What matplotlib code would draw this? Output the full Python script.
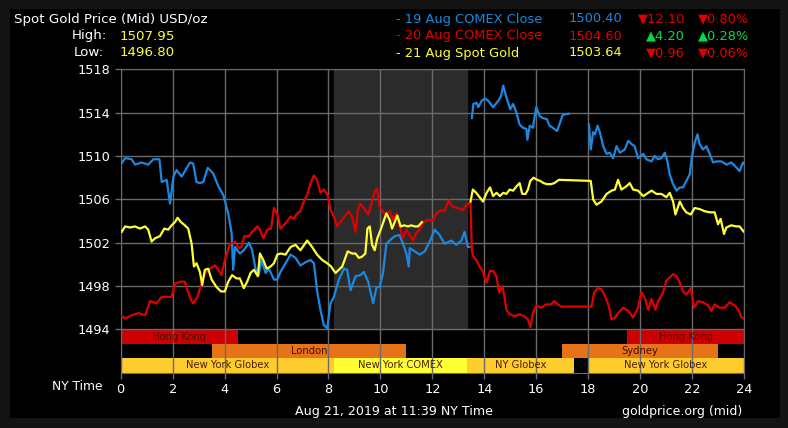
import numpy as np
import matplotlib.pyplot as plt
from matplotlib.patches import Rectangle

nan = np.nan

# 19 Aug COMEX Close (blue)
blue_t = [0, 0.17, 0.42, 0.55, 0.8, 1.06, 1.26, 1.49, 1.58, 1.77, 1.9, 2.03, 2.15, 2.35, 2.47,
          2.67, 2.79, 2.92, 3.05, 3.18, 3.35, 3.56, 3.76, 3.95, 4.14, 4.27, 4.33, 4.4, 4.59,
          4.74, 4.94, 5.06, 5.19, 5.32, 5.41, 5.58, 5.71, 5.9, 6.03, 6.15, 6.35, 6.54, 6.73,
          6.92, 7.12, 7.31, 7.44, 7.56, 7.69, 7.82, 7.95, 8.08, 8.21, 8.4, 8.6, 8.72, 8.85,
          9.04, 9.23, 9.36, 9.53, 9.72, 9.85, 9.97, 10.1, 10.23, 10.36, 10.55, 10.74, 10.87,
          11.0, 11.09, 11.13, 11.32, 11.51, 11.71, 11.9, 12.09, 12.28, 12.47, 12.73, 12.92,
          13.12, 13.24, 13.37, 13.43, 13.45,
          13.52, 13.58, 13.71, 13.77, 13.9, 14.03, 14.15, 14.34, 14.54, 14.64, 14.73, 14.85,
          15.0, 15.11, 15.24, 15.36, 15.49, 15.62, 15.66, 15.75, 15.87, 16.0, 16.13, 16.25,
          16.41, 16.51, 16.64, 16.8, 16.89, 17.02, 17.25, 17.3,
          18.03, 18.1, 18.19, 18.26, 18.36, 18.45, 18.58, 18.71, 18.83, 18.96, 19.09, 19.22,
          19.41, 19.54, 19.67, 19.79, 19.92, 20.12, 20.24, 20.44, 20.56, 20.69, 20.82, 20.95,
          21.05, 21.14, 21.27, 21.4, 21.53, 21.65, 21.78, 21.91, 22.0, 22.1, 22.21, 22.29,
          22.42, 22.55, 22.68, 22.81, 22.94, 23.13, 23.33, 23.51, 23.64, 23.83, 23.96, 24.0]
blue_v = [1509.2, 1509.8, 1509.7, 1509.2, 1509.4, 1509.2, 1509.7, 1509.7, 1507.6, 1507.8,
          1505.6, 1508.1, 1508.7, 1508.1, 1508.6, 1509.4, 1509.3, 1507.6, 1507.5, 1507.6,
          1508.9, 1508.4, 1507.2, 1506.4, 1504.7, 1502.9, 1499.5, 1501.6, 1501.0,
          1501.3, 1502.0, 1501.3, 1499.6, 1499.0, 1500.4, 1499.2, 1499.6, 1498.6, 1498.6,
          1499.3, 1500.1, 1500.9, 1500.6, 1499.9, 1500.2, 1500.4, 1500.1, 1497.6, 1495.8,
          1494.4, 1494.1, 1496.4, 1497.0, 1498.6, 1499.6, 1499.5, 1497.6, 1498.9, 1499.0,
          1499.3, 1498.4, 1496.4, 1497.9, 1497.9, 1499.2, 1501.9, 1502.2, 1502.6, 1502.7,
          1501.9, 1501.0, 1499.8, 1501.5, 1501.2, 1500.9, 1501.2, 1502.1, 1503.2, 1502.7,
          1501.9, 1502.2, 1501.8, 1502.2, 1503.0, 1501.6, 1501.6, nan,
          1513.5, 1514.8, 1514.9, 1514.5, 1515.1, 1515.3, 1515.1, 1514.5, 1515.1, 1515.5,
          1516.5, 1515.4, 1514.3, 1514.8, 1514.0, 1512.9, 1512.6, 1512.5, 1511.5, 1512.8,
          1512.6, 1514.5, 1513.7, 1513.5, 1513.4, 1512.8, 1512.6, 1512.3, 1512.9, 1513.8,
          1513.9, nan,
          1512.9, 1510.6, 1512.2, 1512.0, 1512.8, 1512.2, 1510.9, 1510.2, 1510.3, 1509.8,
          1510.9, 1510.3, 1510.6, 1511.4, 1511.1, 1510.9, 1509.8, 1510.2, 1509.7, 1509.5,
          1510.0, 1509.7, 1509.8, 1510.3, 1509.5, 1508.3, 1507.4, 1506.8, 1507.1, 1507.1,
          1507.7, 1508.3, 1510.0, 1511.2, 1512.0, 1511.1, 1510.6, 1510.9, 1510.2, 1509.4,
          1509.5, 1509.5, 1509.2, 1509.4, 1509.1, 1508.6, 1509.4, 1509.3]

# 20 Aug COMEX Close (red)
red_t = [0, 0.17, 0.42, 0.68, 0.94, 1.13, 1.38, 1.58, 1.77, 1.96, 2.09, 2.28, 2.47, 2.54,
         2.71, 2.79, 2.96, 3.09, 3.24, 3.44, 3.63, 3.76, 3.88, 4.01, 4.21, 4.4, 4.55, 4.65,
         4.76, 4.94, 5.06, 5.26, 5.36, 5.49, 5.64, 5.79, 5.9, 6.03, 6.15, 6.35, 6.54, 6.67,
         6.79, 6.92, 7.05, 7.18, 7.31, 7.44, 7.56, 7.69, 7.82, 7.97, 8.08, 8.21, 8.33, 8.46,
         8.62, 8.78, 8.91, 9.04, 9.13, 9.23, 9.36, 9.53, 9.65, 9.78, 9.87, 9.97, 10.06, 10.19,
         10.36, 10.49, 10.62, 10.74, 10.87, 11.0, 11.13, 11.26, 11.38, 11.51, 11.64, 11.83,
         12.03, 12.15, 12.35, 12.47, 12.63, 12.79, 12.99, 13.18, 13.31, 13.47, 13.52, 13.56,
         13.69, 13.82, 13.95, 14.09, 14.22, 14.34, 14.47, 14.57, 14.7, 14.79, 14.85, 14.98,
         15.17, 15.36, 15.55, 15.68, 15.78, 15.87, 16.0, 16.19, 16.38, 16.57, 16.7, 16.83,
         16.96, 18.13, 18.23, 18.36, 18.51, 18.64, 18.79, 18.9, 19.03, 19.15, 19.35, 19.54,
         19.73, 19.92, 20.05, 20.18, 20.31, 20.44, 20.59, 20.69, 20.88, 21.01, 21.14, 21.27,
         21.4, 21.53, 21.65, 21.78, 21.95, 22.08, 22.23, 22.42, 22.62, 22.74, 22.87, 23.06,
         23.26, 23.45, 23.64, 23.79, 23.9, 24.0]
red_v = [1495.3, 1495.0, 1495.3, 1495.5, 1495.3, 1496.6, 1496.4, 1497.0, 1497.0, 1497.0,
         1498.2, 1498.4, 1498.4, 1497.8, 1496.7, 1496.4, 1497.0, 1498.1, 1499.2, 1499.6,
         1499.9, 1499.5, 1499.0, 1500.4, 1501.9, 1502.1, 1501.5, 1501.6, 1502.6, 1502.6,
         1503.0, 1503.5, 1503.2, 1502.4, 1503.2, 1503.3, 1505.2, 1504.6, 1503.3, 1503.8,
         1504.4, 1504.2, 1504.7, 1504.9, 1505.8, 1506.4, 1507.5, 1508.2, 1507.8, 1506.6,
         1506.9, 1506.4, 1505.0, 1504.4, 1503.5, 1503.9, 1504.4, 1504.9, 1504.4, 1503.0,
         1505.0, 1505.6, 1505.2, 1504.6, 1505.5, 1506.7, 1507.0, 1505.3, 1505.0, 1504.6,
         1504.9, 1504.1, 1504.7, 1503.5, 1502.4, 1503.2, 1502.7, 1502.2, 1502.9, 1503.2,
         1503.9, 1504.1, 1504.1, 1504.7, 1505.0, 1504.9, 1505.9, 1505.3, 1505.2, 1505.0,
         1505.5, 1505.7, 1501.4, 1500.8, 1500.4, 1499.8, 1499.3, 1498.3, 1499.4, 1499.4,
         1498.9, 1497.4, 1498.0, 1496.8, 1495.8, 1495.4, 1495.2, 1495.4, 1495.2, 1494.9,
         1494.2, 1495.5, 1496.2, 1496.0, 1496.3, 1496.3, 1496.6, 1496.3, 1496.1, 1496.1,
         1497.4, 1497.8, 1497.7, 1497.1, 1496.2, 1494.9, 1495.1, 1495.5, 1496.0, 1495.7,
         1495.1, 1496.0, 1497.4, 1496.9, 1495.8, 1496.8, 1495.8, 1496.6, 1497.4, 1498.5,
         1498.8, 1499.1, 1498.9, 1498.3, 1497.5, 1497.2, 1497.8, 1496.0, 1496.6, 1496.5,
         1496.2, 1495.7, 1496.3, 1496.0, 1496.0, 1496.5, 1496.2, 1495.8, 1495.1, 1495.0]

# 21 Aug Spot Gold (yellow)
yel_t = [0.04, 0.17, 0.36, 0.55, 0.74, 0.94, 1.06, 1.19, 1.32, 1.51, 1.68, 1.83, 1.96, 2.09,
         2.19, 2.32, 2.47, 2.6, 2.73, 2.82, 2.92, 3.05, 3.14, 3.24, 3.37, 3.5, 3.69, 3.86,
         4.01, 4.14, 4.29, 4.46, 4.59, 4.74, 4.87, 5.0, 5.13, 5.28, 5.36, 5.49, 5.62, 5.77,
         5.9, 6.03, 6.15, 6.35, 6.54, 6.73, 6.92, 7.18, 7.37, 7.56, 7.76, 7.95, 8.1, 8.27,
         8.4, 8.53, 8.65, 8.74, 8.91, 9.04, 9.17, 9.29, 9.42, 9.5, 9.59, 9.68, 9.78, 9.88,
         10.01, 10.14, 10.23, 10.36, 10.45, 10.55, 10.65, 10.78, 10.91, 11.06, 11.19, 11.32,
         11.45, 11.6, 11.65,
         13.47, 13.56, 13.69, 13.82, 13.95, 14.09, 14.22, 14.34, 14.47, 14.6, 14.73, 14.85,
         14.98, 15.11, 15.24, 15.36, 15.46, 15.59, 15.68, 15.77, 15.9, 16.03, 16.15, 16.28,
         16.41, 16.57, 16.7, 16.87, 18.1, 18.19, 18.32, 18.51, 18.71, 18.9, 19.03, 19.15,
         19.28, 19.47, 19.6, 19.73, 19.92, 20.12, 20.31, 20.44, 20.63, 20.82, 21.01, 21.14,
         21.27, 21.36, 21.53, 21.65, 21.78, 21.95, 22.1, 22.29, 22.49, 22.68, 22.87, 23.0,
         23.1, 23.23, 23.32, 23.51, 23.71, 23.83, 23.96, 24.0]
yel_v = [1503.0, 1503.5, 1503.4, 1503.5, 1503.3, 1503.5, 1503.2, 1502.1, 1502.4, 1502.6,
         1503.3, 1503.2, 1503.6, 1503.9, 1504.3, 1503.9, 1503.6, 1503.3, 1501.9, 1499.8,
         1500.1, 1499.3, 1498.1, 1499.5, 1499.6, 1498.6, 1497.9, 1497.5, 1497.5, 1498.4,
         1499.0, 1498.7, 1498.7, 1497.8, 1498.4, 1499.2, 1499.5, 1498.9, 1501.0, 1500.4,
         1499.6, 1499.8, 1500.1, 1500.9, 1501.0, 1500.9, 1501.6, 1501.8, 1501.3, 1502.2,
         1501.6, 1500.9, 1500.4, 1500.1, 1499.8, 1499.2, 1499.5, 1499.8, 1500.6, 1501.2,
         1501.0, 1501.0, 1500.6, 1500.7, 1501.0, 1503.3, 1503.5, 1501.8, 1501.3, 1502.4,
         1503.2, 1504.1, 1504.7, 1504.1, 1503.3, 1503.9, 1504.5, 1503.5, 1503.6, 1503.5,
         1503.6, 1503.5, 1503.5, 1503.9, nan,
         1505.8, 1506.9, 1506.6, 1506.2, 1505.8, 1506.6, 1507.1, 1506.3, 1506.6, 1506.3,
         1506.6, 1506.5, 1506.9, 1506.8, 1507.2, 1507.5, 1506.5, 1506.5, 1506.9, 1507.7,
         1508.0, 1507.8, 1507.7, 1507.5, 1507.4, 1507.4, 1507.5, 1507.8, 1507.7, 1506.0,
         1505.5, 1505.8, 1506.5, 1506.8, 1506.9, 1507.8, 1506.9, 1507.2, 1507.5, 1506.9,
         1506.8, 1506.3, 1506.6, 1506.8, 1506.5, 1506.5, 1506.2, 1506.6, 1505.8, 1504.6,
         1505.8, 1505.2, 1504.8, 1504.6, 1505.2, 1505.1, 1504.9, 1504.8, 1504.8, 1503.7,
         1504.2, 1502.8, 1503.4, 1503.6, 1503.5, 1503.5, 1503.1, 1503.0]

# trading sessions: (start, end, label)
hk_sessions = [(0, 4.5, "Hong Kong"), (19.5, 24, "Hong Kong")]
eu_sessions = [(3.5, 11, "London"), (17, 23, "Sydney")]
ny_sessions = [(0, 8.2, "New York Globex"), (8.2, 13.35, "New York COMEX"),
               (13.35, 17.45, "NY Globex"), (18, 24, "New York Globex")]
comex_span = (8.2, 13.35)

BLUE = "#1a88e0"
RED = "#e00000"
YEL = "#ffff33"
GREEN = "#00dd44"
GRID = "#6a6a6a"

W, H = 788, 428
fig = plt.figure(figsize=(W / 100, H / 100), dpi=100)
fig.patch.set_facecolor("#141414")
fig.patches.append(Rectangle((10 / W, 1 - 418 / H), 770 / W, 409 / H,
                             transform=fig.transFigure, facecolor="black",
                             edgecolor="none", zorder=-10))

x0, x1, y_top, y_bot = 120.7, 744, 69.3, 372.7
ax = fig.add_axes([x0 / W, 1 - y_bot / H, (x1 - x0) / W, (y_bot - y_top) / H])
ax.set_facecolor("black")
ax.set_xlim(0, 24)
ax.set_ylim(1490, 1518)

ax.axvspan(comex_span[0], comex_span[1], ymin=4 / 28, ymax=1, color="#2b2b2b", zorder=0)

bh = 4 / 3
for rows, yb, col in [(hk_sessions, 1494 - bh, "#cc0000"),
                      (eu_sessions, 1494 - 2 * bh, "#e67317")]:
    for s, e, lab in rows:
        ax.add_patch(Rectangle((s, yb), e - s, bh, facecolor=col, edgecolor="none", zorder=1))
        ax.text((s + e) / 2, yb + bh / 2, lab, ha="center", va="center",
                fontsize=7.2, color="#4a0a00", zorder=3)
for s, e, lab in ny_sessions:
    col = "#ffff33" if "COMEX" in lab else "#ffcc2e"
    ax.add_patch(Rectangle((s, 1490), e - s, bh, facecolor=col, edgecolor="none", zorder=1))
    ax.text((s + e) / 2, 1490 + bh / 2, lab, ha="center", va="center",
            fontsize=7.2, color="#4a2000", zorder=3)

ax.set_xticks(range(0, 25, 2))
ax.set_yticks(range(1494, 1519, 4))
ax.grid(True, color=GRID, linewidth=1, zorder=2)
ax.set_axisbelow(False)
ax.tick_params(colors=GRID, labelcolor="white", labelsize=9.3, length=4, width=1)
for sp in ax.spines.values():
    sp.set_color(GRID)

ax.plot(blue_t, blue_v, color=BLUE, linewidth=1.6, zorder=4)
ax.plot(red_t, red_v, color=RED, linewidth=1.6, zorder=4)
ax.plot(yel_t, yel_v, color=YEL, linewidth=1.6, zorder=5)

def ftext(x, y, s, **kw):
    kw.setdefault("color", "white")
    kw.setdefault("fontsize", 9.6)
    kw.setdefault("va", "center")
    fig.text(x / W, 1 - y / H, s, **kw)

ftext(14, 19, "Spot Gold Price (Mid) USD/oz")
ftext(107, 36, "High:", ha="right")
ftext(120, 36, "1507.95", color=YEL)
ftext(104, 53, "Low:", ha="right")
ftext(120, 53, "1496.80", color=YEL)

rows = [("- 19 Aug COMEX Close", "1500.40", BLUE, "▼12.10", "▼0.80%", RED),
        ("- 20 Aug COMEX Close", "1504.60", RED, "▲4.20", "▲0.28%", GREEN),
        ("- 21 Aug Spot Gold", "1503.64", YEL, "▼0.96", "▼0.06%", RED)]
for i, (name, val, c, chg, pct, cc) in enumerate(rows):
    y = 19 + 17 * i
    ftext(396, y, name, color=c, fontsize=9.4)
    ftext(622, y, val, color=c, ha="right", fontsize=9.4)
    ftext(685, y, chg, color=cc, ha="right", fontsize=9.4)
    ftext(749, y, pct, color=cc, ha="right", fontsize=9.4)

ftext(102, 386, "NY Time", ha="right", fontsize=8.8)
ftext(295, 411, "Aug 21, 2019 at 11:39 NY Time", fontsize=9.1)
ftext(742, 411, "goldprice.org (mid)", ha="right", fontsize=9.0)

fig.savefig("out.png", dpi=100, facecolor=fig.get_facecolor())
